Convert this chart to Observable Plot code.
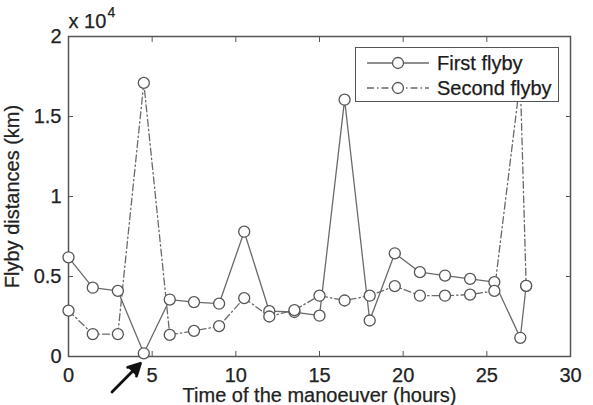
<!DOCTYPE html>
<html><head><meta charset="utf-8">
<script src="https://cdn.jsdelivr.net/npm/d3@7"></script>
<script src="https://cdn.jsdelivr.net/npm/@observablehq/plot@0.6"></script>
<style>
body{margin:0;background:#fff;}
#wrap{position:relative;width:593px;height:405px;overflow:hidden;font-family:"Liberation Sans",Arial,sans-serif;color:#222;}
#wrap svg text{stroke:#222;stroke-width:0.25px;}
#legend{position:absolute;left:355px;top:47px;width:202px;height:53px;border:1.5px solid #555;background:#fff;}
.sample{position:absolute;left:10px;}
.lab{position:absolute;left:81px;font-size:20px;line-height:20px;color:#1a1a1a;-webkit-text-stroke:0.25px #222;}
</style></head><body><div id="wrap"></div>
<script>
const times = [0, 1.45, 2.95, 4.5, 6.05, 7.5, 9.0, 10.5, 12.0, 13.5, 15.0, 16.5, 18.0, 19.5, 21.0, 22.5, 24.0, 25.45, 27.0, 27.35];
const firstFlyby = [6200, 4300, 4100, 200, 3560, 3400, 3300, 7800, 2830, 2780, 2550, 16050, 2250, 6450, 5270, 5060, 4850, 4650, 1170, 4420];
const secondFlyby = [2870, 1400, 1400, 17100, 1350, 1600, 1900, 3650, 2500, 2900, 3800, 3500, 3800, 4400, 3800, 3800, 3870, 4100, 17300, 4420];
const seriesNames = ["First flyby", "Second flyby"];
const xTicks = [0, 5, 10, 15, 20, 25, 30];
const yTicks = [0, 5000, 10000, 15000, 20000];
const arrowAnno = [{x1: 2.6, y1: -2220, x2: 4.3, y2: -420}];

const firstRows = times.map((t, i) => ({t, v: firstFlyby[i], s: seriesNames[0]}));
const secondRows = times.map((t, i) => ({t, v: secondFlyby[i], s: seriesNames[1]}));
const allRows = firstRows.concat(secondRows);

const ink = "#222";
const lineC = "#6a6a6a";
const dash = "7,3,1.5,3";

const chart = Plot.plot({
  width: 593, height: 405,
  marginLeft: 68, marginRight: 23, marginTop: 36, marginBottom: 49,
  style: {fontFamily: '"Liberation Sans", Arial, sans-serif', fontSize: "20px", color: ink, background: "transparent"},
  x: {domain: [0, 30]},
  y: {domain: [0, 20000]},
  marks: [
    Plot.frame({stroke: "#555", strokeWidth: 1.5}),
    Plot.axisX({anchor: "bottom", ticks: xTicks, tickSize: -5, tickPadding: 16, tickFormat: d => String(d), stroke: "#555",
      label: "Time of the manoeuver (hours)", labelAnchor: "center", labelArrow: "none", labelOffset: 45}),
    Plot.axisX({anchor: "top", ticks: xTicks, tickSize: -5, tickFormat: () => "", label: null, stroke: "#555"}),
    Plot.axisY({anchor: "left", ticks: yTicks, tickSize: -5, tickPadding: 12, tickFormat: d => String(d / 10000), stroke: "#555",
      label: "Flyby distances (km)", labelAnchor: "center", labelArrow: "none", labelOffset: 64}),
    Plot.axisY({anchor: "right", ticks: yTicks, tickSize: -5, tickFormat: () => "", label: null, stroke: "#555"}),
    Plot.line(firstRows, {x: "t", y: "v", stroke: lineC, strokeWidth: 1.3}),
    Plot.line(secondRows, {x: "t", y: "v", stroke: lineC, strokeWidth: 1.3, strokeDasharray: dash}),
    Plot.dot(allRows, {x: "t", y: "v", r: 5.5, stroke: "#555", fill: "white", strokeWidth: 1.3}),
    Plot.text(["x 10"], {frameAnchor: "top-left", lineAnchor: "middle", dy: -15, textAnchor: "start", fill: ink}),
    Plot.text(["4"], {frameAnchor: "top-left", lineAnchor: "middle", dx: 39, dy: -24, textAnchor: "start", fontSize: 14, fill: ink}),
    Plot.arrow(arrowAnno, {x1: "x1", y1: "y1", x2: "x2", y2: "y2", stroke: "#111", fill: "#111", strokeWidth: 2.8, headLength: 13, headAngle: 55, clip: false})
  ]
});
const wrap = document.getElementById("wrap");
wrap.appendChild(chart);

const legend = document.createElement("div");
legend.id = "legend";
seriesNames.forEach((name, i) => {
  const cy = i === 0 ? 15 : 40;
  const s = document.createElement("div");
  s.className = "sample";
  s.style.top = (cy - 7) + "px";
  s.innerHTML = `<svg width="64" height="14" style="display:block"><line x1="1" x2="63" y1="7" y2="7" stroke="${lineC}" stroke-width="1.3" ${i === 1 ? `stroke-dasharray="${dash}"` : ""}/><circle cx="32" cy="7" r="5.5" fill="white" stroke="#555" stroke-width="1.3"/></svg>`;
  legend.appendChild(s);
  const t = document.createElement("div");
  t.className = "lab";
  t.style.top = (cy - 10) + "px";
  t.textContent = name;
  legend.appendChild(t);
});
wrap.appendChild(legend);
</script>
</body></html>
